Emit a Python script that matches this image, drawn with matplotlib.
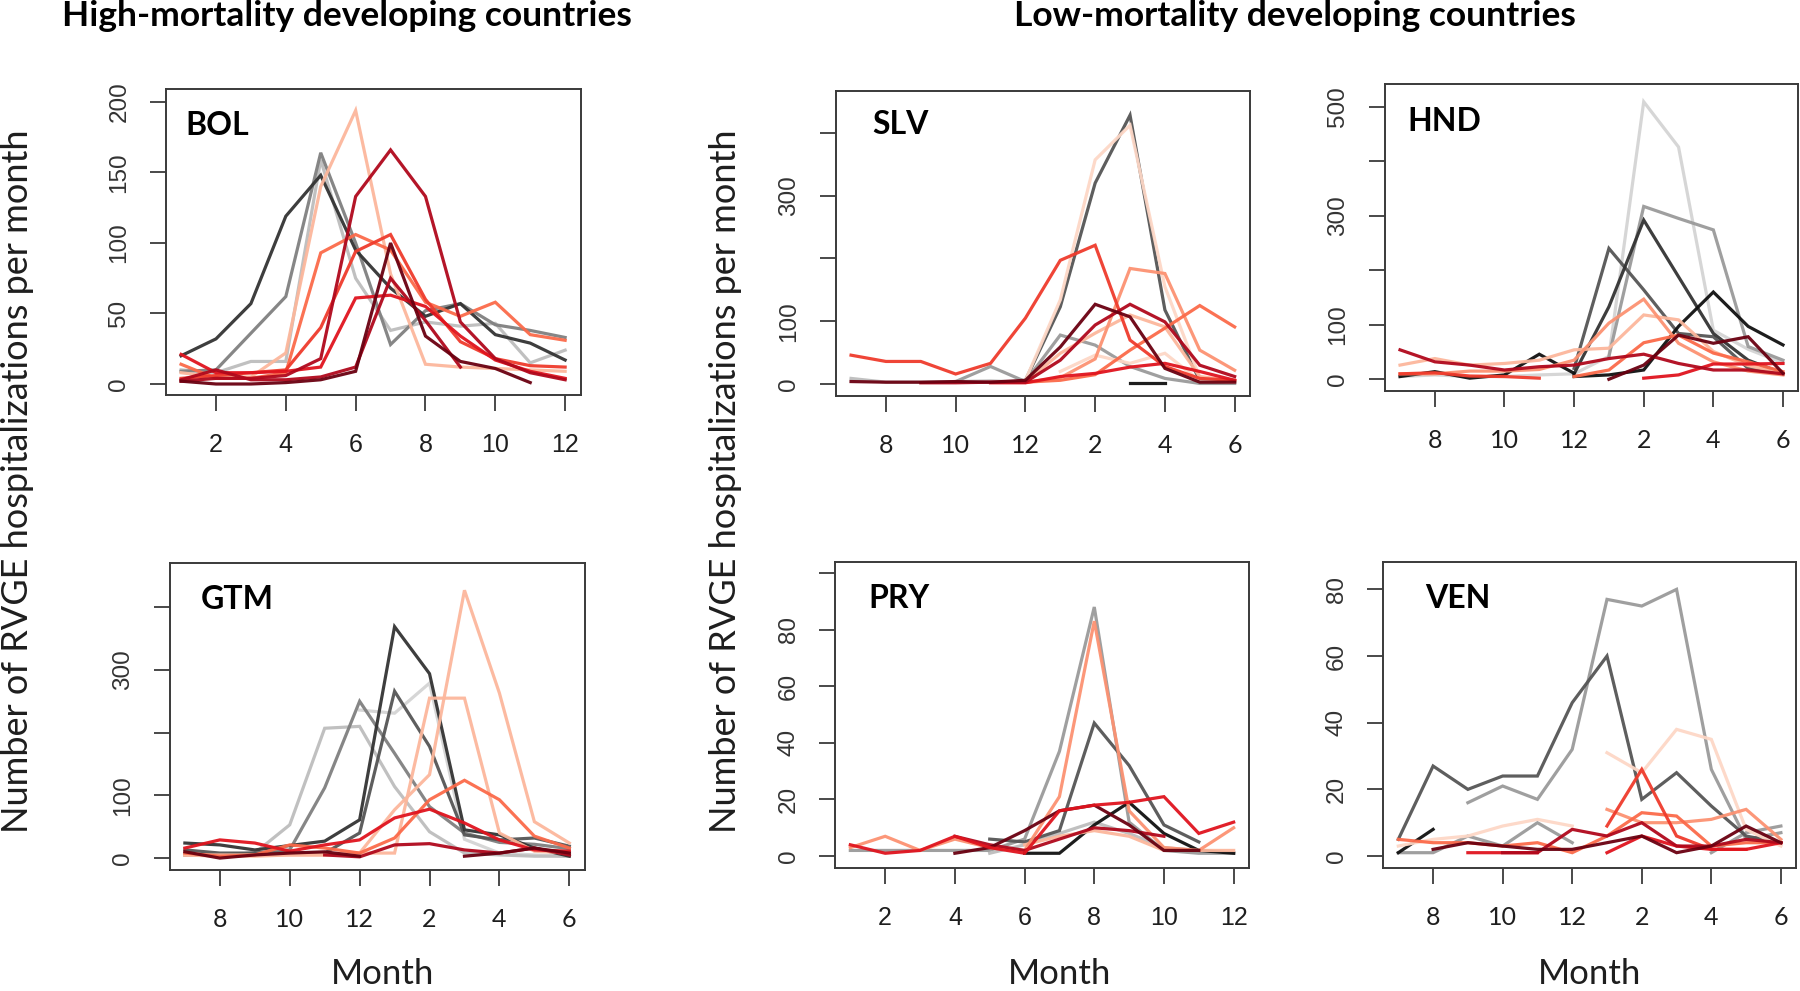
import numpy as np
import matplotlib
matplotlib.use("Agg")
import matplotlib.pyplot as plt

# ---------------- data ----------------
N = None
MONTH_TICKS = [2, 4, 6, 8, 10, 12]
LABELS_CAL = ["2", "4", "6", "8", "10", "12"]      # Jan..Dec axis
LABELS_JUL = ["8", "10", "12", "2", "4", "6"]      # Jul..Jun axis

# colours (grey and red ramps)
G1, G2, G3, G4, G5, G6, G7 = "#d4d4d4", "#bdbdbd", "#9a9a9a", "#808080", "#555555", "#333333", "#111111"
R0, R1, R2, R3, R4, R5, R6, R7 = "#fdd7c6", "#fcb79c", "#fc9272", "#fb6a4a", "#ef3b2c", "#e0141e", "#b0081c", "#6a0010"

# BOL (months Jan..Dec)
BOL_1 = [10, 8, 16, 16, 159, 75, 38, 44, 41, 43, 15, 24]
BOL_2 = [9, 10, 36, 62, 164, 100, 28, 52, 57, 42, 38, 33]
BOL_3 = [20, 32, 57, 119, 148, 95, 68, 48, 57, 35, 29, 17]
BOL_4 = [8, 5, 5, 22, 140, 194, 78, 14, 12, 11, 10, 9]
BOL_5 = [14, 4, 4, 8, 93, 106, 95, 58, 48, 58, 35, 31]
BOL_6 = [4, 6, 8, 10, 40, 94, 106, 60, 30, 18, 13, 12]
BOL_7 = [21, 8, 8, 9, 12, 61, 63, 55, 34, 17, 9, 4]
BOL_8 = [2, 4, 4, 6, 18, 133, 166, 133, 44, 18, 8, 3]
BOL_9 = [3, 10, 3, 3, 5, 12, 75, 45, 12, N, N, N]
BOL_10 = [2, 0, 0, 1, 3, 9, 100, 34, 16, 11, 1, N]

# GTM (months Jul..Jun)
GTM_1 = [24, 21, 13, 20, 27, 61, 369, 294, 45, 37, 16, 3]
GTM_2 = [13, 8, 8, 8, 8, 40, 266, 178, 37, 29, 32, 19]
GTM_3 = [5, 5, 8, 13, 112, 250, 167, 82, 40, 25, 22, 15]
GTM_4 = [5, 5, 8, 53, 207, 210, 114, 42, 8, 5, 3, 3]
GTM_5 = [N, N, N, N, N, 236, 231, 279, 30, 8, 5, 3]
GTM_6 = [5, 5, 5, 5, 5, 8, 8, 255, 255, 40, 11, 8]
GTM_7 = [5, 3, 3, 5, 5, 8, 77, 133, 427, 263, 58, 24]
GTM_8 = [8, 3, 5, 21, 16, 8, 32, 93, 124, 93, 35, 16]
GTM_9 = [16, 29, 24, 11, 21, 29, 64, 78, 56, 29, 13, 11]
GTM_10 = [N, N, N, N, 5, 2, 21, 23, 13, 8, 16, 5]
GTM_11 = [10, 0, 5, 8, 10, 3, N, N, 3, 8, 16, 8]

# SLV (months Jul..Jun)
SLV_1 = [N, N, N, 4, 28, 4, 78, 62, 28, 9, 1, 1]
SLV_2 = [9, 3, 3, 4, 5, 3, N, N, N, N, N, N]
SLV_3 = [N, N, N, N, N, 6, 123, 320, 428, 118, 6, 4]
SLV_4 = [N, N, N, N, N, 6, 134, 357, 412, 155, 10, 5]
SLV_5 = [46, 36, 36, 16, 33, 105, 197, 221, 70, 28, 9, 6]
SLV_6 = [N, N, N, N, N, 3, 10, 40, 184, 176, 54, 22]
SLV_7 = [N, N, N, N, N, 3, 6, 15, 54, 89, 125, 91]
SLV_8 = [4, 3, 3, 4, 3, 6, 59, 127, 107, 25, 3, 3]
SLV_9 = [N, N, 2, 2, 3, 3, 38, 94, 127, 99, 30, 12]
SLV_10 = [N, N, N, N, 2, 2, 12, 17, 27, 33, 20, 6]
SLV_11 = [N, N, N, N, N, 3, 49, 81, 110, 91, 12, 5]
SLV_12 = [N, N, N, N, N, N, 20, 46, 33, 49, 5, 3]
SLV_13 = [N, N, N, N, N, N, N, N, 2, 2, N, N]

# HND (months Jul..Jun)
HND_1 = [5, 8, 5, 5, 8, 10, 42, 509, 426, 90, 55, 30]
HND_2 = [N, N, N, N, N, N, 42, 317, 295, 274, 60, 35]
HND_3 = [N, N, N, N, N, 20, 240, 164, 84, 78, 20, 10]
HND_4 = [N, N, N, N, N, 10, 133, 292, 188, 84, 35, 11]
HND_5 = [5, 14, 2, 8, 46, 11, N, N, N, N, N, N]
HND_6 = [N, N, N, N, N, 5, 8, 17, 97, 160, 97, 63]
HND_7 = [26, 38, 26, 29, 35, 54, 57, 118, 109, 51, 25, 11]
HND_8 = [10, 10, 15, 15, 18, 35, 103, 147, 66, 32, 15, 8]
HND_9 = [N, N, N, N, N, 5, 17, 67, 81, 48, 32, 14]
HND_10 = [54, 32, 26, 17, 23, 26, 38, 46, 29, 17, 17, 10]
HND_11 = [N, N, N, N, N, N, 0, 26, 81, 66, 78, 11]
HND_12 = [N, N, N, N, N, N, N, 2, 8, 28, 28, 29]
HND_13 = [10, 12, 6, 5, 2, N, N, N, N, N, N, N]

# PRY (months Jan..Dec)
PRY_1 = [2, 2, 2, 2, 2, 6, 37, 88, 12, 2, 1, 1]
PRY_2 = [N, N, N, N, 6, 5, 9, 47, 32, 11, 5, N]
PRY_3 = [N, N, N, N, N, 1, 1, 11, 19, 8, 2, 1]
PRY_4 = [N, N, N, N, 1, 4, 8, 12, 8, 3, 2, 1]
PRY_5 = [3, 7, 2, 6, 3, 2, 21, 83, 16, 3, 2, 10]
PRY_6 = [N, N, N, N, N, 4, 7, 9, 7, 2, 2, 2]
PRY_7 = [N, N, N, 1, 3, 9, 16, 18, 11, 2, 2, N]
PRY_8 = [N, N, N, 7, 4, 2, 6, 10, 9, 7, N, N]
PRY_9 = [4, 1, 2, 7, 3, 1, 16, 18, 19, 21, 8, 12]

# VEN (months Jul..Jun)
VEN_1 = [5, 27, 20, 24, 24, 46, 60, 17, 25, 15, 6, 4]
VEN_2 = [N, N, 16, 21, 17, 32, 77, 75, 80, 26, 5, 7]
VEN_3 = [1, 1, 6, 3, 10, 4, N, N, N, 1, 7, 9]
VEN_4 = [3, 5, 6, 9, 11, 9, N, N, N, N, N, N]
VEN_5 = [N, N, N, N, N, N, 31, 25, 38, 35, 8, 3]
VEN_6 = [N, N, N, N, N, N, 14, 10, 10, 11, 14, 5]
VEN_7 = [5, 4, 4, 3, 4, 1, 6, 13, 12, 3, 4, 4]
VEN_8 = [N, N, N, N, N, N, 9, 26, 6, 2, 2, N]
VEN_9 = [N, 2, 4, 3, 2, 2, 4, 6, 1, 3, 9, 4]
VEN_10 = [N, N, N, 1, 1, 8, 6, 10, 3, 3, 5, 4]
VEN_11 = [N, N, 1, 1, 1, N, 1, 6, 3, 2, 2, 4]
VEN_12 = [1, 8, N, N, N, N, N, N, N, N, N, N]

# ---------------- layout ----------------
W, H, DPI = 1800, 991, 100
fig = plt.figure(figsize=(W / DPI, H / DPI), dpi=DPI)
fig.patch.set_facecolor("white")

def fx(px):
    return px / W

def fy(py):
    return 1 - py / H

CAL = ["Lato", "DejaVu Sans"]
ARIAL = ["Liberation Sans", "DejaVu Sans"]
SPINE = "#3a3a3a"
TXT = "#1e1e1e"

panels = [
    dict(name="BOL", box=(165.7, 89.3, 580.5, 395), ylim=(-7.8, 209),
         yticks=[0, 50, 100, 150, 200], ylab=["0", "50", "100", "150", "200"],
         xlab=LABELS_CAL, xfont=ARIAL, lab=(20, 46),
         series=[(BOL_1, G2), (BOL_2, G4), (BOL_3, G6), (BOL_4, R1), (BOL_5, R3),
                 (BOL_6, R4), (BOL_7, R5), (BOL_8, R6), (BOL_9, R6), (BOL_10, R7)]),
    dict(name="GTM", box=(169.5, 563.3, 584.7, 870), ylim=(-19, 470),
         yticks=[0, 100, 200, 300, 400], ylab=["0", "100", "", "300", ""],
         xlab=LABELS_JUL, xfont=CAL, lab=(31, 46),
         series=[(GTM_5, G1), (GTM_4, G2), (GTM_3, G4), (GTM_2, G5), (GTM_1, G6),
                 (GTM_6, R1), (GTM_7, R1), (GTM_8, R3), (GTM_9, R5), (GTM_10, R6),
                 (GTM_11, R7)]),
    dict(name="SLV", box=(835.7, 90.7, 1250, 396), ylim=(-19, 467),
         yticks=[0, 100, 200, 300, 400], ylab=["0", "100", "", "300", ""],
         xlab=LABELS_JUL, xfont=CAL, lab=(37, 43),
         series=[(SLV_2, G2), (SLV_1, G3), (SLV_3, G5), (SLV_12, R0), (SLV_4, R0),
                 (SLV_11, R1), (SLV_6, R2), (SLV_7, R3), (SLV_5, R4), (SLV_10, R5),
                 (SLV_9, R6), (SLV_8, R7), (SLV_13, G7)]),
    dict(name="HND", box=(1384.7, 84.3, 1798.3, 391), ylim=(-21.5, 541),
         yticks=[0, 100, 200, 300, 400, 500], ylab=["0", "100", "", "300", "", "500"],
         xlab=LABELS_JUL, xfont=CAL, lab=(23, 47),
         series=[(HND_1, G1), (HND_2, G3), (HND_3, G5), (HND_4, G6), (HND_5, G7),
                 (HND_6, G7), (HND_7, R1), (HND_8, R2), (HND_9, R3), (HND_13, R4),
                 (HND_12, R5), (HND_10, R6), (HND_11, R7)]),
    dict(name="PRY", box=(835, 562, 1249, 867.7), ylim=(-4.1, 103.9),
         yticks=[0, 20, 40, 60, 80, 100], ylab=["0", "20", "40", "60", "80", ""],
         xlab=LABELS_CAL, xfont=ARIAL, lab=(33, 46),
         series=[(PRY_1, G3), (PRY_4, G2), (PRY_2, G5), (PRY_3, G7), (PRY_6, R1),
                 (PRY_5, R2), (PRY_8, R6), (PRY_7, R7), (PRY_9, R5)]),
    dict(name="VEN", box=(1383, 561.7, 1796.2, 867.7), ylim=(-3.5, 88.3),
         yticks=[0, 20, 40, 60, 80], ylab=["0", "20", "40", "60", "80"],
         xlab=LABELS_JUL, xfont=CAL, lab=(42, 46),
         series=[(VEN_3, G3), (VEN_2, G3), (VEN_1, G5), (VEN_12, G7), (VEN_4, R0),
                 (VEN_5, R0), (VEN_6, R2), (VEN_7, R3), (VEN_8, R4), (VEN_11, R5),
                 (VEN_10, R6), (VEN_9, R7)]),
]

months = np.arange(1, 13)
for p in panels:
    l, t, r, b = p["box"]
    ax = fig.add_axes([fx(l), fy(b), fx(r - l), (b - t) / H])
    for vals, col in p["series"]:
        y = np.array(vals, dtype=float)
        ax.plot(months, y, color=col, lw=2.3, solid_joinstyle="miter", alpha=0.95)
    ax.set_xlim(0.56, 12.44)
    ax.set_ylim(*p["ylim"])
    ax.set_xticks(MONTH_TICKS)
    ax.set_xticklabels(p["xlab"], family=p["xfont"], fontsize=18, color=TXT)
    ax.set_yticks(p["yticks"])
    ax.set_yticklabels(p["ylab"], family=ARIAL, fontsize=17.5, rotation=90,
                       va="center", color="#333333")
    ax.tick_params(axis="both", direction="out", length=11.5, width=1.3, color=SPINE)
    ax.tick_params(axis="x", pad=16)
    ax.tick_params(axis="y", pad=14)
    for s in ax.spines.values():
        s.set_color(SPINE)
        s.set_linewidth(1.4)
    fig.text(fx(l + p["lab"][0]), fy(t + p["lab"][1]), p["name"], family=CAL,
             fontsize=23, fontweight="bold", va="baseline", ha="left", color="black")

# titles
fig.text(fx(347), fy(26), "High-mortality developing countries", family=CAL,
         fontsize=25.5, fontweight="bold", ha="center", va="baseline")
fig.text(fx(1295), fy(26), "Low-mortality developing countries", family=CAL,
         fontsize=25.5, fontweight="bold", ha="center", va="baseline")

# axis titles
ylab_text = "Number of RVGE hospitalizations per month"
for xb in (28, 736):
    fig.text(fx(xb), fy(481), ylab_text, family=CAL, fontsize=26, rotation=90,
             rotation_mode="anchor", ha="center", va="baseline", color=TXT)
for xc in (382.5, 1060, 1590):
    fig.text(fx(xc), fy(984), "Month", family=CAL, fontsize=25, ha="center",
             va="baseline", color=TXT)

fig.savefig("out.png", dpi=DPI, facecolor="white")
